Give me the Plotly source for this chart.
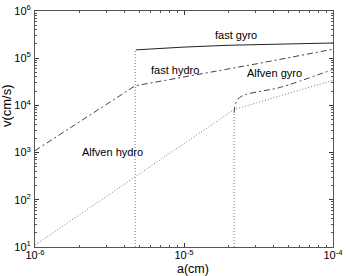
import plotly.graph_objects as go

# ---- data ----
fast_hydro_a = [1e-6, 4.7e-6, 1e-5, 3e-5, 1e-4]
fast_hydro_v = [1.1e3, 2.6e4, 4.0e4, 7.5e4, 1.55e5]

fast_gyro_a = [4.75e-6, 1e-5, 2e-5, 5e-5, 1e-4]
fast_gyro_v = [1.5e5, 1.72e5, 1.88e5, 2.02e5, 2.1e5]

alfven_gyro_a = [2.17e-5, 2.22e-5, 2.35e-5, 2.6e-5, 3.3e-5, 4.4e-5, 1e-4]
alfven_gyro_v = [7.0e3, 1.1e4, 1.45e4, 1.7e4, 2.0e4, 2.4e4, 5.8e4]

alfven_hydro_a = [1e-6, 2.17e-5, 1e-4]
alfven_hydro_v = [11, 8.2e3, 3.4e4]

# cutoffs of the gyro curves (vertical drops)
cutoff_fast_a = [4.7e-6, 4.7e-6]
cutoff_fast_v = [10, 1.5e5]
cutoff_alfven_a = [2.17e-5, 2.17e-5]
cutoff_alfven_v = [10, 7.0e3]

x_tickvals = [1e-6, 1e-5, 1e-4]
x_ticktext = ["10<sup>-6</sup>", "10<sup>-5</sup>", "10<sup>-4</sup>"]
y_tickvals = [1e1, 1e2, 1e3, 1e4, 1e5, 1e6]
y_ticktext = ["10<sup>1</sup>", "10<sup>2</sup>", "10<sup>3</sup>",
              "10<sup>4</sup>", "10<sup>5</sup>", "10<sup>6</sup>"]

labels = ["fast gyro", "fast hydro", "Alfven gyro", "Alfven hydro"]

FONT = "Liberation Sans, Arial"

fig = go.Figure()
dot = dict(color="#777", width=1, dash="1px,2px")
fig.add_trace(go.Scatter(x=cutoff_fast_a, y=cutoff_fast_v, mode="lines", line=dot))
fig.add_trace(go.Scatter(x=cutoff_alfven_a, y=cutoff_alfven_v, mode="lines", line=dot))
fig.add_trace(go.Scatter(x=alfven_hydro_a, y=alfven_hydro_v, mode="lines", line=dot))
fig.add_trace(go.Scatter(x=fast_hydro_a, y=fast_hydro_v, mode="lines",
                         line=dict(color="#444", width=1, dash="6px,3px,2px,3px")))
fig.add_trace(go.Scatter(x=alfven_gyro_a, y=alfven_gyro_v, mode="lines", line_shape="spline",
                         line=dict(color="#444", width=1, dash="6px,3px,2px,3px")))
fig.add_trace(go.Scatter(x=fast_gyro_a, y=fast_gyro_v, mode="lines",
                         line=dict(color="#222", width=1)))

label_pos = [(-4.65, 5.49), (-5.06, 4.75), (-4.395, 4.69), (-5.48, 3.01)]
for t, (lx, ly) in zip(labels, label_pos):
    fig.add_annotation(x=lx, y=ly, text=t, showarrow=False,
                       font=dict(family=FONT, size=11, color="black"))

# axis titles
fig.add_annotation(xref="paper", yref="paper", x=0.53, y=-29 / 236, yanchor="bottom",
                   yshift=-1, borderpad=0, text="a(cm)", showarrow=False,
                   font=dict(family=FONT, size=12.5, color="black"))
fig.add_annotation(xref="paper", yref="paper", x=-0.095, y=0.6, xanchor="center",
                   textangle=-90, text="v(cm/s)", showarrow=False,
                   font=dict(family=FONT, size=13, color="black"))

axis_common = dict(type="log", ticks="inside", ticklen=4, tickcolor="#333",
                   showline=True, linecolor="#555", linewidth=1, mirror="ticks",
                   showgrid=False, zeroline=False, automargin=False,
                   tickfont=dict(family=FONT, size=11, color="black"),
                   minor=dict(ticks="inside", ticklen=2, tickcolor="#555", dtick="D1", showgrid=False))

fig.update_xaxes(range=[-6, -4], tickmode="array", tickvals=x_tickvals, ticktext=x_ticktext,
                 ticklabelstandoff=-2, **axis_common)
fig.update_yaxes(range=[1, 6], tickmode="array", tickvals=y_tickvals, ticktext=y_ticktext,
                 ticklabelstandoff=1, **axis_common)

fig.update_layout(width=346, height=276, showlegend=False,
                  margin=dict(l=35, r=13, t=11, b=29, autoexpand=False),
                  plot_bgcolor="white", paper_bgcolor="white")

fig.write_html("out.html", config={"displayModeBar": False},
               post_script="document.body.style.margin='0';")
